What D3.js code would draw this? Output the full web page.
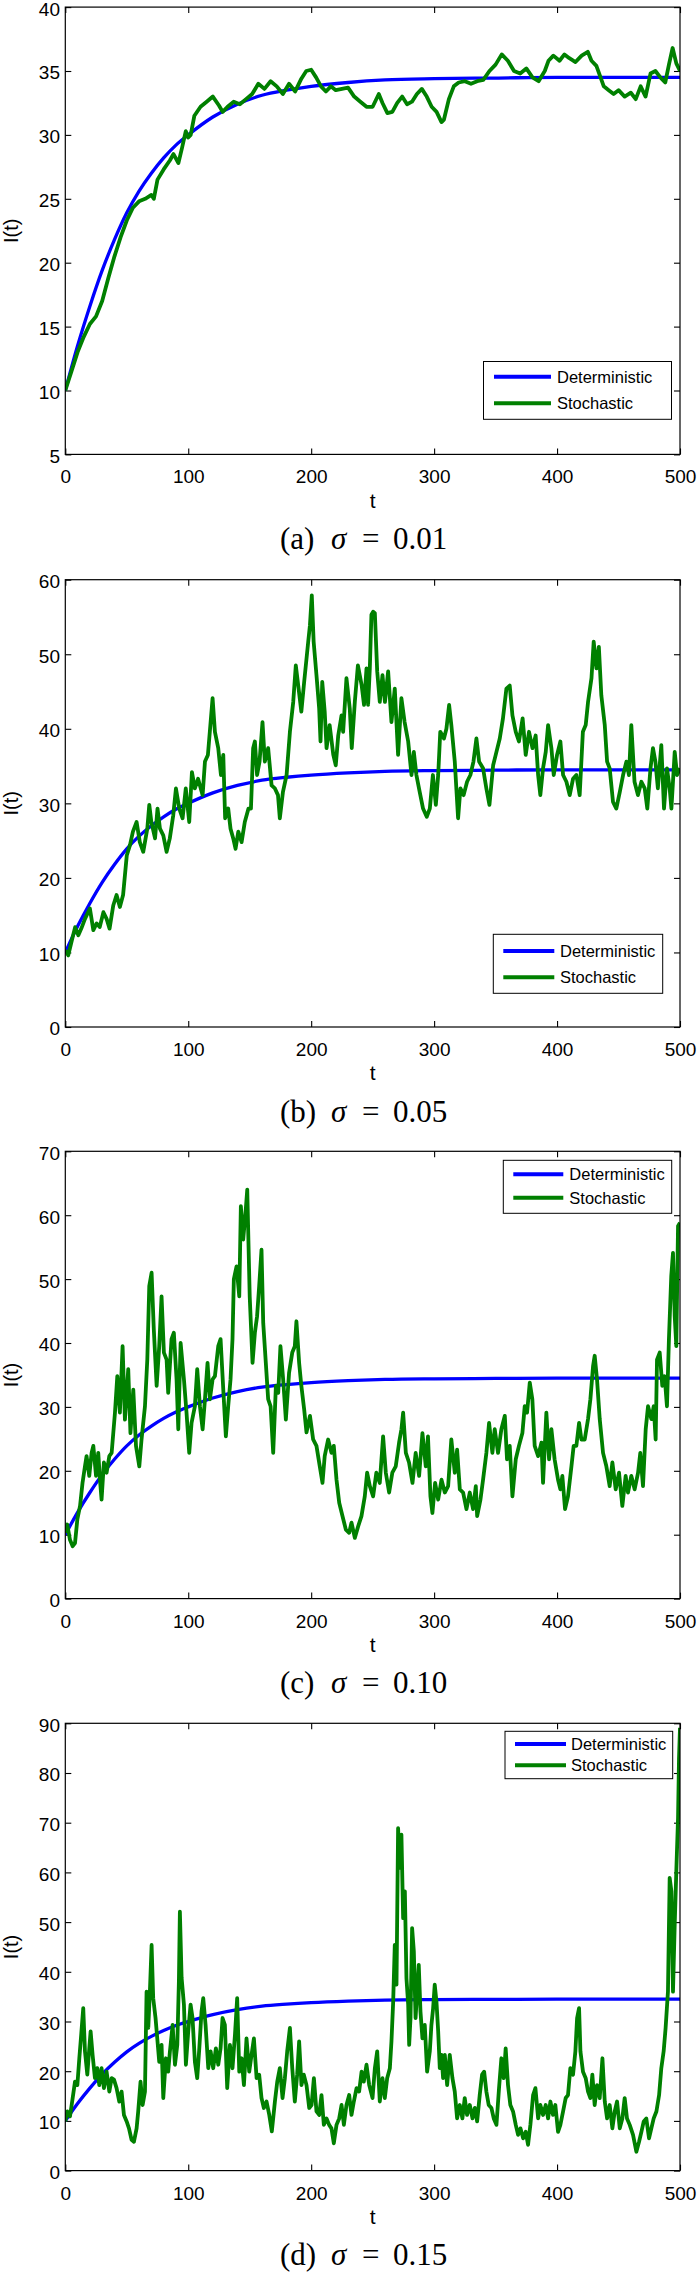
<!DOCTYPE html>
<html>
<head>
<meta charset="utf-8">
<script src="https://cdn.jsdelivr.net/npm/d3@7"></script>
<style>
body { margin: 0; background: #fff; }
svg { display: block; }
.axis text { font-family: "Liberation Sans", Arial, sans-serif; font-size: 19px; fill: #000; }
.axis line { stroke: #000; stroke-width: 1.1; }
.axis path { display: none; }
.lbl { font-family: "Liberation Sans", Arial, sans-serif; fill: #000; }
.cap { font-family: "Liberation Serif", "Times New Roman", serif; font-size: 31px; fill: #000; }
</style>
</head>
<body>
<svg id="fig" width="697" height="2273"></svg>
<script>
/*************************************************************************/
// data

const xTicks = [0, 100, 200, 300, 400, 500];

const detT = [0, 10, 20, 30, 40, 50, 60, 70, 80, 90, 100, 120, 140, 160, 180, 200, 230, 260, 300, 350, 400, 450, 500];
const detV = [10, 13.5, 16.6, 19.4, 21.8, 23.9, 25.6, 27.0, 28.2, 29.2, 30.0, 31.4, 32.4, 33.1, 33.5, 33.8, 34.1, 34.3, 34.4, 34.45, 34.5, 34.5, 34.5];

const stochA = [[0,10],[5,11.5],[10,13],[15,14.2],[20,15.2],[25,15.8],[30,17],[35,18.8],[40,20.5],[45,22],[50,23.3],[55,24.3],[60,24.8],[65,25],[70,25.3],[72,25],[75,26.5],[80,27.3],[85,28],[88,28.5],[92,27.8],[95,29],[98,30.3],[100,29.8],[102,30],[105,31.5],[110,32.2],[115,32.6],[120,33],[125,32.3],[128,31.8],[132,32.2],[137,32.6],[142,32.4],[147,32.8],[152,33.2],[157,34],[162,33.6],[167,34.2],[172,33.8],[177,33.2],[182,34],[187,33.4],[192,34.4],[196,35],[200,35.1],[204,34.5],[208,33.8],[212,33.4],[216,33.8],[220,33.5],[225,33.6],[230,33.7],[235,33],[240,32.6],[245,32.2],[250,32.2],[255,33.2],[258,32.5],[262,31.7],[266,31.8],[270,32.5],[274,33],[278,32.4],[282,32.6],[286,33.2],[290,33.6],[294,33],[298,32.2],[302,31.8],[306,31],[308,31.2],[312,32.8],[316,33.8],[320,34.1],[325,34.2],[330,34],[335,34.2],[340,34.3],[345,35],[350,35.5],[355,36.3],[360,35.8],[365,35],[370,34.8],[375,35.2],[380,34.5],[385,34.2],[390,35],[393,35.8],[397,36.2],[402,35.8],[406,36.3],[410,36],[415,35.7],[420,36.2],[425,36.5],[428,35.8],[432,35.4],[435,34.6],[438,33.8],[442,33.5],[446,33.2],[450,33.5],[455,33],[460,33.3],[464,32.8],[468,33.8],[472,33],[476,34.8],[480,35],[484,34.5],[488,34.1],[491,35.5],[494,36.8],[497,35.6],[500,35]];

const stochB = [[0,10.3],[2.4,9.6],[5,11.4],[8,13.4],[10.6,12.3],[13,13.2],[16,14.5],[20,15.9],[22.8,13],[25.5,13.9],[28,13.4],[31,15.4],[33.6,14.5],[36,13.2],[39,16.3],[41.7,17.7],[44.4,16.1],[47,17.7],[50,23],[52.6,24.4],[55,26.2],[58,27.5],[60.6,24.8],[63.4,23.5],[66.7,26.6],[68.3,29.8],[70,27.5],[73,25.3],[75,29.3],[77,26.6],[79.7,25.7],[82.4,23.5],[85,25.3],[87.8,28.4],[90,32],[92.7,29.3],[95.4,28],[98,32],[100.8,27.5],[103,34.2],[105.4,32],[108,33.3],[111.7,31.1],[113.6,35.6],[116,36.5],[118,40.5],[119.8,44.1],[121.7,39.6],[124.4,37.4],[126.6,33.8],[128.5,36.5],[130,28],[132.5,29.3],[134.4,26.6],[136.6,25.3],[138.5,23.9],[140.7,26.2],[143.4,24.8],[146,27.5],[149,29.3],[151,29.3],[152.8,37.4],[154.2,38.3],[156,33.8],[158,35.6],[160.4,40.9],[162.3,35.6],[165,37.4],[167.8,32.4],[170.5,32],[173,31.1],[174.5,28],[177,31.5],[180,33.8],[182.7,39.6],[185.4,43.6],[187.5,48.5],[189.4,45.9],[192,42.3],[194.3,46.3],[197.6,51.7],[199,53.9],[200.5,57.9],[202,51.7],[204.3,47.2],[206.5,42.7],[207.6,38.3],[209,46.3],[211,42.3],[212.5,37.4],[215,40.5],[218,36.5],[220,35.1],[222,39.1],[224.7,41.8],[226,39.6],[228.7,46.8],[231.4,42.7],[233,37.4],[235.5,43.6],[238,48.5],[241,45.9],[243,43.2],[245,48.1],[246.3,43.2],[247.7,48.1],[249,55.3],[250.4,55.7],[251.8,55.5],[253.7,47.7],[255.8,43.6],[258,47.2],[260,43.6],[262.6,47.7],[265.3,40.9],[268,45.4],[270.7,36.5],[273.4,44.1],[276,40.9],[278.9,38.3],[281.6,33.8],[283.5,36.9],[285.6,33.8],[288.3,31.5],[291,29.3],[294,28.2],[296.5,29.3],[299,33.8],[301.4,29.8],[303.3,33.8],[305,39.6],[308,38.7],[310,40],[312.2,43.2],[314,40.5],[316.8,35.6],[319.5,28],[321.4,32],[324,31.1],[326.8,32.9],[329.5,33.8],[332,35.6],[334.4,38.7],[336.6,35.6],[339.8,34.7],[342.5,32],[345,29.8],[348,35.1],[350.7,36.9],[353.4,38.7],[356,41.4],[358.8,45.4],[361.5,45.8],[363.7,41.8],[366.4,39.6],[369,38.3],[372,41.4],[374.5,36.5],[377.2,39.6],[380,37.4],[382.6,39.1],[384.6,33.8],[386.4,31.1],[388.6,34.7],[390.8,36.9],[392.7,40.5],[395.4,37.4],[397.3,33.8],[400,36.5],[402.7,38.3],[404.9,33.8],[407.6,32.9],[410.3,31.1],[413,33.3],[415.7,33.8],[418.4,31.1],[421,39.6],[423.3,40.5],[425.2,43.6],[428,46.8],[429.8,51.7],[432,48.1],[434,51],[436,44.5],[438.8,40.5],[440.7,35.6],[442.8,34.7],[445.5,30.2],[448.2,29.3],[451,31.5],[453.7,33.8],[456.4,35.6],[458.5,33.8],[460.4,40.5],[463,32.9],[465.8,31.1],[468.6,32.9],[471.3,32],[473.4,29.3],[476,34.7],[478,37.4],[480,35.6],[482,32],[484.8,37.8],[487,29.3],[489.4,34.7],[491.6,32],[493,29.3],[495.7,36.9],[497.6,33.8],[500,34.7]];

const stochC = [[0,10.3],[1.6,11.6],[3.8,9.2],[6,8.2],[7.9,8.7],[9.8,12.4],[12,14.5],[14,18.1],[16,20.7],[17.3,22.3],[19.5,19.2],[21.4,22.8],[22.8,23.9],[25,19.2],[26.8,22.8],[28.2,18.6],[29.5,15.5],[31.4,21.3],[33.6,19.7],[35.8,22.3],[37.7,22.8],[40.4,29.1],[42.3,34.8],[44.4,29.1],[46.6,39.5],[48.5,28],[51.2,35.9],[53,25.9],[55.3,32.7],[57.5,23.9],[60.2,20.7],[62,24.9],[64.8,30.1],[66.7,37.4],[68.3,48.9],[70.2,51],[72,42.1],[74.3,33.3],[76.4,39.5],[78.3,47.3],[80.2,38.5],[82.4,37.4],[83.7,32.2],[86.4,40.6],[88.3,41.6],[90.5,34.3],[91.9,26.5],[93.8,40],[96.5,34.3],[98.6,29.1],[100.8,22.8],[102.7,27.5],[105.4,30.1],[107.3,35.9],[109.5,30.1],[111.7,26.5],[113.6,31.2],[115.7,36.9],[117.6,31.2],[119.8,34.3],[121.7,34.8],[124.4,39.5],[126.3,40.6],[128.5,32.7],[130.6,25.4],[132.5,30.1],[134.4,34.3],[136,40.6],[137.1,50],[139.3,52],[141.5,47.3],[142.8,61.4],[144.7,56.2],[146.6,60.4],[148,64],[150,47.3],[152.3,36.9],[154.2,41.6],[156,44.2],[157.7,48.9],[159.6,54.6],[161,43.1],[163.1,36.9],[165,31.2],[167,30.1],[169.1,22.8],[171.3,33.3],[173.2,32.2],[175,39.5],[177.2,34.3],[179.4,28],[182,35.3],[184.6,38.5],[186.7,39.5],[188,43.4],[190.2,36.9],[192,33.3],[194.3,29.6],[196.2,26],[199,28.6],[201.6,24.9],[204.3,23.9],[207,20.7],[209.2,18.1],[211,22.3],[213.8,24.9],[216.5,22.8],[218.4,23.9],[220.6,18.6],[222.8,15],[225.5,12.9],[228.2,10.8],[230.9,10.3],[232.8,11.9],[235.5,9.5],[238.2,11.3],[240.9,12.9],[243.6,16],[245.5,19.7],[247.7,17.6],[250.4,16],[253,19.7],[255.8,18.1],[258.5,25.4],[260.7,19.7],[263.4,16.6],[266,19.7],[268.8,20.7],[271.5,24.4],[273.4,26.5],[274.8,29.1],[277,22.8],[279.6,21.3],[282.4,18.1],[285,22.8],[287.8,19.2],[290.5,25.9],[293.2,20.7],[295,25.4],[297,16],[298.6,13.4],[300.8,18.1],[303.3,15.5],[306,18.6],[308.7,16.6],[311.4,17.6],[314,24.9],[316.8,19.7],[318.7,23.3],[320.9,17.1],[323.6,16.6],[326.3,14],[329,16.6],[331.7,14],[333.9,17.6],[335,12.9],[337.7,15.5],[339.8,18.6],[342.5,22.8],[344.7,27.5],[347.4,22.8],[349.3,26.5],[352,22.8],[354.7,26.5],[357.5,28.6],[359.3,21.8],[361.5,23.9],[363.7,16],[366.4,21.8],[369,23.9],[371.8,25.9],[373.7,30.1],[375.6,29.1],[377.8,33.8],[379.9,31.2],[381.8,23.9],[384.6,22.3],[387.3,24.4],[388.6,18.1],[391.3,29.1],[393.5,21.8],[395.4,26.5],[398,21.8],[400.8,18.6],[402.7,17.1],[404.3,19.2],[406.5,14],[408.9,16],[411.7,20.7],[413.5,23.9],[415.7,23.9],[417.9,27.5],[419.8,24.9],[422.5,24.9],[425.2,28.1],[427.1,31.2],[429.3,36.4],[430.6,38],[432.5,34.3],[434.7,28.1],[437.4,22.8],[440.1,20.7],[442.8,17.6],[445,21.3],[447.7,17.1],[450.4,19.7],[453.1,14.5],[455.8,19.2],[457.7,16.6],[460.4,19.2],[463.1,17.1],[465.9,19.7],[467.7,22.8],[469.9,17.6],[472.1,26.5],[474,30.1],[476.7,28.1],[478.6,30.1],[480.2,24.9],[481.3,37.4],[483.5,38.5],[485.6,33.3],[487.5,34.8],[489.4,30.1],[491,40.6],[492.9,50.5],[494.3,54.1],[495.7,44.2],[497,39.5],[498.4,58.3],[500,58.8]];

const stochD = [[0,9.9],[1.6,11.9],[3.8,10.9],[6,14.6],[7.9,17.9],[9.8,17.2],[11.4,22.6],[12.7,26.6],[14.6,32.7],[16,24],[17.9,19.3],[19.5,24.6],[20.6,28],[22.2,23.3],[24.1,18.6],[26,20.6],[27.6,17.2],[29.5,20.6],[31.4,16.6],[33.6,19.9],[35.8,15.9],[37.7,18.6],[39.6,18.3],[41.7,16.6],[43.9,13.9],[45.8,15.9],[47.7,11.2],[49.9,9.9],[51.8,8.5],[53.9,6.2],[55.8,5.8],[58,8.5],[59.3,11.9],[61.2,17.9],[62.9,13.2],[64.8,15.9],[66.1,36],[67.5,28.7],[68.8,36],[70.2,45.4],[71.5,34.7],[73.4,30.7],[74.8,26.6],[76.4,21.9],[78.3,25.3],[79.7,14.6],[81.8,22.6],[83.7,19.9],[85.1,24],[87.3,29.3],[89.2,21.3],[91.1,25.3],[92.4,38.1],[93.2,52.1],[94.6,38.8],[96.5,33.4],[98.1,21.3],[100,28],[101.9,33.4],[103.5,30.7],[105.4,21.9],[107.3,18.6],[109,24.6],[110.8,32],[112.2,34.7],[114.1,29.3],[116.3,20.6],[118.2,24],[120.3,20.6],[122.5,24.6],[124.4,21.3],[126.3,24.6],[127.9,30.7],[129.8,29.3],[131.7,16.6],[133.9,25.3],[136,20.6],[138,27.3],[139.8,34.7],[141.5,19.9],[143.4,22.6],[145.3,17.2],[147.4,26.6],[149.6,19.9],[151.5,23.3],[153.4,26.6],[155.6,18.6],[157.7,19.3],[159.6,14.6],[161.5,12.6],[163.7,13.9],[165.9,11.2],[168,7.9],[170.5,13.9],[172.4,17.9],[174.5,20.6],[176.7,14.6],[178.6,18.6],[180.5,24],[182.7,28.7],[184.6,20.6],[186.7,13.9],[188.6,19.3],[190.2,26],[192.1,17.2],[194,19.3],[196.2,17.2],[198.4,12.6],[200.3,13.2],[202.2,18.6],[204.3,11.9],[206.5,11.2],[208.4,15.2],[210.3,9.2],[212.5,10.5],[214.6,9.2],[216.5,8.5],[218.4,5.5],[220.6,9.2],[222.8,10.5],[224.7,13.2],[226.6,9.2],[228.7,13.2],[230.9,15.2],[232.8,11.2],[234.7,13.9],[236.9,16.6],[239,15.9],[241,19.9],[242.8,17.9],[245,21.3],[247.2,17.2],[249.9,14.6],[251.8,20.6],[253.7,24],[255.8,13.9],[258,18.6],[259.9,14.6],[261.8,18.6],[264,20.6],[265.3,26],[266.7,34],[268,45.4],[269.4,37.4],[270.7,68.9],[272.1,60.9],[273.4,67.6],[274.8,50.8],[276.2,56.2],[277.5,38.7],[278.9,33.4],[279.7,25.3],[280.8,30.7],[282.1,48.8],[283.5,44.1],[284.9,30.7],[286.2,36],[287.5,41.4],[288.9,32],[290.5,26.6],[292.4,29.3],[294.3,19.9],[296.5,24],[297.8,29.3],[299.2,32.7],[300.5,37.4],[301.9,34],[303.3,28],[304.6,20.6],[306,23.3],[307.3,18.6],[308.7,23.3],[310.6,17.2],[312.7,23.3],[314.9,18.6],[316.8,15.9],[318.7,10.5],[320.9,13.2],[323,10.5],[324.9,14.6],[326.8,11.2],[329,13.2],[331.2,10.5],[333.1,12.6],[335,9.9],[337.1,15.2],[339,19.3],[340.7,19.9],[342.5,15.9],[344.4,13.2],[346.6,12.6],[348.5,10.5],[350.7,9.2],[352.8,16.6],[354.7,22.6],[356.6,18.6],[358.2,24.6],[360.1,17.2],[362,13.2],[364.2,11.9],[366.4,9.2],[368.3,7.2],[370.2,8.5],[372.4,6.5],[374.5,7.8],[376.4,5.2],[378.3,9.2],[380.5,15.2],[382.4,16.6],[384.6,10.5],[386.4,13.2],[388.6,11.2],[390.8,13.2],[392.7,10.5],[394.6,13.9],[396.7,11.2],[398.6,13.2],[400.8,7.8],[402.7,9.2],[404.9,11.9],[407,14.6],[408.9,15.2],[410.8,20.6],[413,19.3],[414.9,24],[416.3,30.7],[417.9,32.7],[419,24],[421.1,19.9],[423.3,18.6],[425.2,15.9],[427.1,14.6],[428.7,19.3],[430.6,13.2],[432.5,17.2],[434.7,14.6],[436.9,22.6],[438.8,13.9],[440.7,10.5],[442.8,13.2],[445,8.5],[446.9,11.9],[448.8,13.9],[451,8.5],[453.1,10.5],[455,14.6],[456.9,10.5],[459.1,9.2],[461.8,7.2],[464.5,3.8],[466.7,5.8],[468.6,7.8],[470.5,9.9],[472.6,10.5],[474.8,6.5],[476.7,8.5],[478.6,10.5],[480.8,11.9],[483,15.2],[484.8,20.6],[486.7,24],[488.3,28.7],[490.2,36],[491.6,58.9],[493,56.2],[494.3,36],[495.7,49.5],[497,60.2],[498.4,70.9],[499.2,83],[500,89.1]];

const yDomains = [[5, 40], [0, 60], [0, 70], [0, 90]];
const yTickSteps = [5, 10, 10, 10];
const panelLetters = ["a", "b", "c", "d"];
const sigmaLabels = ["0.01", "0.05", "0.10", "0.15"];
const seriesNames = ["Deterministic", "Stochastic"];

/*************************************************************************/
// layout

const left = 65.3, plotW = 614.7, plotH = 447.3;
const tops = [7.1, 579.7, 1151.3, 1723.3];
const colors = ["#0000ff", "#008000"];

// legend boxes (y relative to plot top)
const legendBoxes = [
    { x: 483.5, y: 354.4, w: 188, h: 57.8, lx1: 494, lx2: 551, tx: 557, rows: [369.6, 396.2] },
    { x: 493.3, y: 354.6, w: 169.4, h: 59, lx1: 503.3, lx2: 554.3, tx: 560, rows: [371.3, 397.6] },
    { x: 503.3, y: 9, w: 168.4, h: 53, lx1: 513.3, lx2: 563.3, tx: 569.3, rows: [23, 46.4] },
    { x: 505, y: 8, w: 167.7, h: 47.4, lx1: 515, lx2: 566, tx: 571, rows: [20.7, 42] }
];

function setAttrs(sel, obj){ Object.entries(obj).forEach(([k, v]) => sel.attr(k, v)); return sel; }

const svg = d3.select("#fig");
const stochs = [stochA, stochB, stochC, stochD];
const detData = detT.map((t, i) => [t, detV[i]]);

const x = d3.scaleLinear().domain([0, 500]).range([0, plotW]);

stochs.forEach((stoch, p) => {
    const g = svg.append("g").attr("transform", `translate(${left},${tops[p]})`);
    const y = d3.scaleLinear().domain(yDomains[p]).range([plotH, 0]);
    const yTicks = d3.range(yDomains[p][0], yDomains[p][1] + 0.01, yTickSteps[p]);

    g.append("clipPath").attr("id", "clip" + p)
        .append("rect").attr("width", plotW).attr("height", plotH);

    // axes, ticks pointing inwards on all four sides
    g.append("g").attr("class", "axis").attr("transform", `translate(0,${plotH})`)
        .call(d3.axisBottom(x).tickValues(xTicks).tickSizeInner(-6).tickSizeOuter(0).tickPadding(15.5));
    g.append("g").attr("class", "axis")
        .call(d3.axisTop(x).tickValues(xTicks).tickSizeInner(-6).tickSizeOuter(0).tickFormat(""));
    const ya = g.append("g").attr("class", "axis")
        .call(d3.axisLeft(y).tickValues(yTicks).tickSizeInner(-6).tickSizeOuter(0).tickPadding(5.3));
    ya.selectAll("text").attr("dy", "0.42em");
    g.append("g").attr("class", "axis").attr("transform", `translate(${plotW},0)`)
        .call(d3.axisRight(y).tickValues(yTicks).tickSizeInner(-6).tickSizeOuter(0).tickFormat(""));

    const lines = g.append("g").attr("clip-path", `url(#clip${p})`);
    lines.append("path").datum(detData)
        .attr("d", d3.line().x(d => x(d[0])).y(d => y(d[1])).curve(d3.curveMonotoneX))
        .attr("fill", "none").attr("stroke", colors[0]).attr("stroke-width", 3.3);
    lines.append("path").datum(stoch)
        .attr("d", d3.line().x(d => x(d[0])).y(d => y(d[1])))
        .attr("fill", "none").attr("stroke", colors[1]).attr("stroke-width", 3.8)
        .attr("stroke-linejoin", "round");

    setAttrs(g.append("rect"), { width: plotW, height: plotH, fill: "none", stroke: "#000", "stroke-width": 1.2 });

    // axis labels
    g.append("text").attr("class", "lbl")
        .attr("transform", `translate(${11 - left},${plotH / 2}) rotate(-90)`)
        .attr("text-anchor", "middle").attr("dy", "0.35em")
        .style("font-size", "20px")
        .text("I(t)");
    setAttrs(g.append("text").attr("class", "lbl"), { x: plotW / 2, y: plotH + 53.5, "text-anchor": "middle" })
        .style("font-size", "21px")
        .text("t");

    // legend
    const lb = legendBoxes[p];
    const lg = g.append("g").attr("transform", `translate(${-left},0)`);
    setAttrs(lg.append("rect"), { x: lb.x, y: lb.y, width: lb.w, height: lb.h, fill: "#fff", stroke: "#000", "stroke-width": 1 });
    seriesNames.forEach((name, i) => {
        setAttrs(lg.append("line"), { x1: lb.lx1, x2: lb.lx2, y1: lb.rows[i], y2: lb.rows[i], stroke: colors[i], "stroke-width": 4 });
        setAttrs(lg.append("text").attr("class", "lbl"), { x: lb.tx, y: lb.rows[i], dy: "0.36em" })
            .style("font-size", "16.5px")
            .text(name);
    });

    // caption
    const cap = g.append("g").attr("class", "cap").attr("transform", `translate(${-left},${plotH + 94.5})`);
    cap.append("text").attr("x", 280).text(`(${panelLetters[p]})`);
    cap.append("text").attr("x", 331).style("font-style", "italic").text("σ");
    cap.append("text").attr("x", 362).text("=");
    cap.append("text").attr("x", 393).text(sigmaLabels[p]);
});

/*************************************************************************/
</script>
</body>
</html>
